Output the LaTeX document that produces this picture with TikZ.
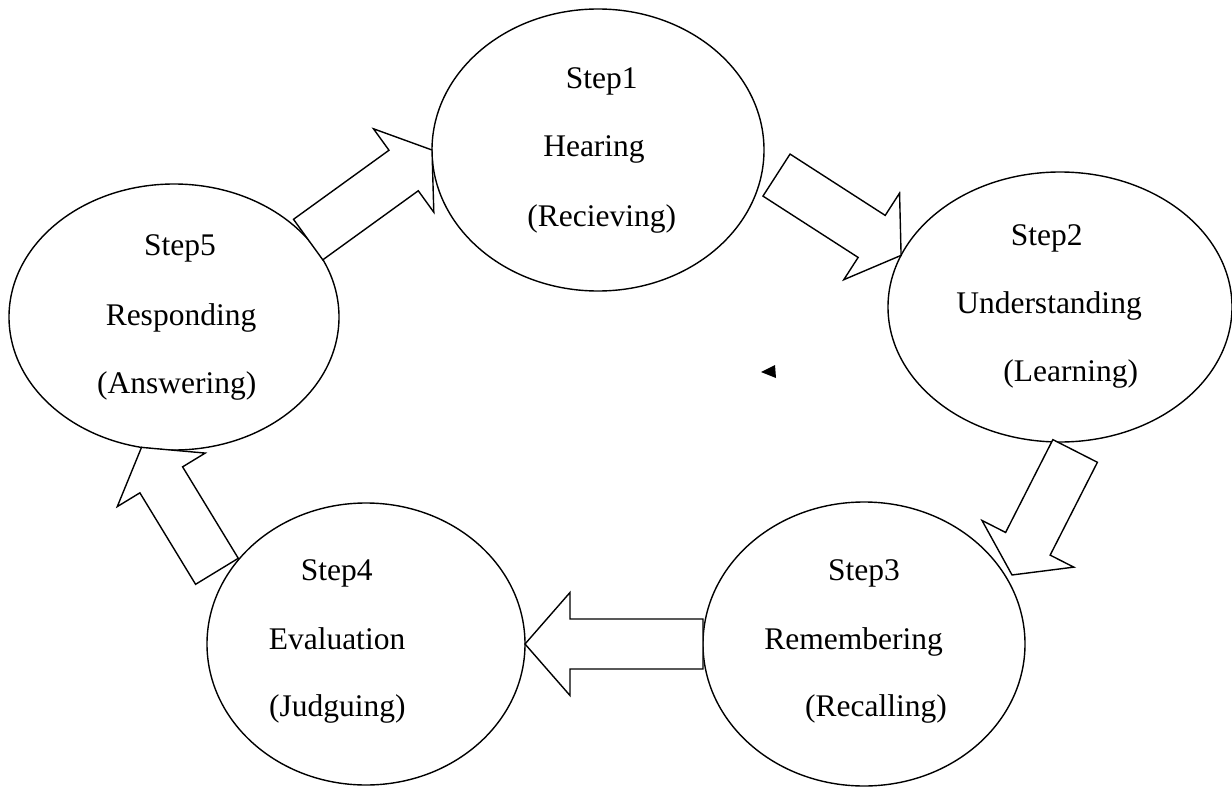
\documentclass[tikz,border=0pt]{standalone}
\usepackage{fontspec}
\setmainfont{Liberation Serif}
\usetikzlibrary{calc,shapes.geometric}

\newlength{\shafthw}\setlength{\shafthw}{12.5pt}
\newlength{\headhw}\setlength{\headhw}{25.75pt}
% block arrow from tail #2 to tip #3, head length #1
\newcommand{\blockarrow}[3][18pt]{%
  \coordinate (hb) at ($(#3)!#1!(#2)$);
  \draw[blockarr] ($(#2)!\shafthw!90:(#3)$) -- ($(hb)!\shafthw!90:(#3)$)
    -- ($(hb)!\headhw!90:(#3)$) -- (#3) -- ($(hb)!\headhw!-90:(#3)$)
    -- ($(hb)!\shafthw!-90:(#3)$) -- ($(#2)!\shafthw!-90:(#3)$) -- cycle;
}

\begin{document}
\begin{tikzpicture}[x=0.5pt, y=-0.5pt,
    stepell/.style={draw, ellipse, line width=0.7pt, inner sep=0pt, outer sep=0pt},
    blockarr/.style={draw, fill=white, line width=0.7pt, line join=miter},
    lbl/.style={font=\fontsize{15.75}{19}\selectfont, inner sep=0pt, anchor=base}]
  \useasboundingbox (0,0) rectangle (1232,787);
  % Steps:
  \node[stepell, minimum width=166pt, minimum height=141pt] (s1) at (598,150) {};
  \node[stepell, minimum width=172pt, minimum height=135pt] (s2) at (1060,307) {};
  \node[stepell, minimum width=161pt, minimum height=142pt] (s3) at (864,644) {};
  \node[stepell, minimum width=159pt, minimum height=141pt] (s4) at (366,644) {};
  \node[stepell, minimum width=165pt, minimum height=133pt] (s5) at (174,317) {};
  % Texts:
  \node[lbl] (s1a) at (601.7,88.3) {Step1};
  \node[lbl] (s1b) at (594,156.7) {Hearing};
  \node[lbl] (s1c) at (601.7,226.7) {(Recieving)};
  \node[lbl] (s2a) at (1046.7,245) {Step2};
  \node[lbl] (s2b) at (1049,313.3) {Understanding};
  \node[lbl] (s2c) at (1070.7,381.7) {(Learning)};
  \node[lbl] (s3a) at (864,580) {Step3};
  \node[lbl] (s3b) at (853.7,649.3) {Remembering};
  \node[lbl] (s3c) at (876,716.7) {(Recalling)};
  \node[lbl] (s4a) at (336.7,580) {Step4};
  \node[lbl] (s4b) at (337,649.3) {Evaluation};
  \node[lbl] (s4c) at (337.3,716.7) {(Judguing)};
  \node[lbl] (s5a) at (180,255) {Step5};
  \node[lbl] (s5b) at (181,325) {Responding};
  \node[lbl] (s5c) at (176.7,393.3) {(Answering)};
  % Arrows:
  \coordinate (t12) at ($(s1.center)!1.09!(s1.352)$);
  \coordinate (t23) at ($(s2.center)!1.07!(s2.276)$);
  \coordinate (p23) at ($(s3.center)!1.04!(s3.25)$);
  \coordinate (t45) at ($(s4.center)!1.07!(s4.154)$);
  \blockarrow[17.5pt]{s5.30}{s1.west}
  \blockarrow[17.5pt]{t12}{s2.162}
  \blockarrow[17.5pt]{t23}{p23}
  \blockarrow[22.5pt]{s3.west}{s4.east}
  \blockarrow[19pt]{t45}{s5.256}
  \fill (761,372) -- (775,365) -- (776,378) -- cycle;
\end{tikzpicture}
\end{document}
